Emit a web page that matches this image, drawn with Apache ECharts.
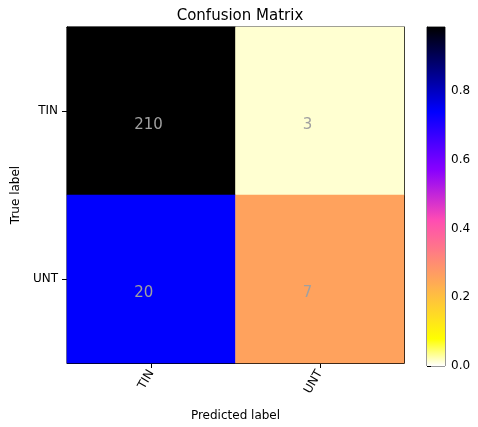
<!DOCTYPE html>
<html><head><meta charset="utf-8">
<script src="https://cdn.jsdelivr.net/npm/echarts@6/dist/echarts.min.js"></script>
<style>html,body{margin:0;padding:0;background:#fff}#c{width:478px;height:427px}</style>
</head><body><div id="c"></div>
<script>
const categories = ['TIN', 'UNT'];
const counts = [[210, 3], [20, 7]];
const colorbarTicks = [0, 0.2, 0.4, 0.6, 0.8];

const rowSums = counts.map(r => r.reduce((a, b) => a + b, 0));
const norm = counts.map((r, i) => r.map(v => v / rowSums[i]));
let vmax = 0; norm.forEach(r => r.forEach(v => { if (v > vmax) vmax = v; }));
let vmin = 0; norm.forEach(r => r.forEach(v => { if (v < vmin) vmin = v; }));

function clip(v) { return Math.max(0, Math.min(1, v)); }
function gnuplot2(x) {
  const r = clip(x / 0.32 - 0.78125);
  const g = clip(2 * x - 0.84);
  const b = clip(x < 0.25 ? 4 * x : (x < 0.92 ? -2 * x + 1.84 : x / 0.08 - 11.5));
  return 'rgb(' + Math.round(r * 255) + ',' + Math.round(g * 255) + ',' + Math.round(b * 255) + ')';
}
function cmap(v) { const t = (v - vmin) / (vmax - vmin); return gnuplot2(1 - t); }

const heatData = [];
counts.forEach((row, i) => row.forEach((c, j) => heatData.push([j, i, norm[i][j], c])));

const stops = [];
for (let k = 0; k <= 100; k++) stops.push({ offset: k / 100, color: gnuplot2(k / 100) });

const font = 'DejaVu Sans';
const frameAxis = { show: true, axisLine: { show: true, lineStyle: { color: '#000' } },
  axisTick: { show: false }, axisLabel: { show: false }, splitLine: { show: false } };
const chart = echarts.init(document.getElementById('c'));
chart.setOption({
  animation: false,
  textStyle: { fontFamily: font },
  title: { text: 'Confusion Matrix', left: 235, top: 4, textAlign: 'center',
    textStyle: { fontFamily: font, fontSize: 15, fontWeight: 'normal', color: '#000' } },
  grid: [
    { left: 67, right: 74, top: 27, bottom: 61, show: true, borderColor: '#000', borderWidth: 1 },
    { left: 427, width: 18, top: 27, bottom: 61, show: true, borderColor: '#333', borderWidth: 1 }
  ],
  xAxis: [
    { type: 'category', data: categories, gridIndex: 0,
      axisLine: { show: true, lineStyle: { color: '#000' } },
      axisTick: { show: true, alignWithLabel: true, length: 5, lineStyle: { color: '#000' } },
      axisLabel: { rotate: 60, color: '#000', fontSize: 12, fontFamily: font, margin: 8 },
      splitLine: { show: false },
      name: 'Predicted label', nameLocation: 'middle', nameGap: 47,
      nameTextStyle: { fontSize: 12, color: '#000', fontFamily: font } },
    { type: 'value', gridIndex: 1, min: 0, max: 1, show: false },
    Object.assign({ type: 'category', data: categories, gridIndex: 0, position: 'top' }, frameAxis)
  ],
  yAxis: [
    { type: 'category', data: categories, inverse: true, gridIndex: 0,
      axisLine: { show: true, lineStyle: { color: '#000' } },
      axisTick: { show: true, alignWithLabel: true, length: 5, lineStyle: { color: '#000' } },
      axisLabel: { color: '#000', fontSize: 12, fontFamily: font, margin: 9 },
      splitLine: { show: false },
      name: 'True label', nameLocation: 'middle', nameGap: 43,
      nameTextStyle: { fontSize: 12, color: '#000', fontFamily: font } },
    { type: 'value', gridIndex: 1, position: 'right', min: vmin, max: vmax, interval: 0.2,
      axisLine: { show: true, lineStyle: { color: '#333' } },
      axisTick: { show: true, length: 4, lineStyle: { color: '#000' } },
      axisLabel: { color: '#000', fontSize: 12, fontFamily: font, margin: 6, showMaxLabel: false,
        formatter: v => v.toFixed(1) },
      splitLine: { show: false } },
    Object.assign({ type: 'category', data: categories, gridIndex: 0, position: 'right' }, frameAxis)
  ],
  series: [
    { type: 'heatmap', xAxisIndex: 0, yAxisIndex: 0, data: heatData, z: 1,
      itemStyle: { color: p => cmap(p.value[2]) },
      label: { show: true, formatter: p => String(p.value[3]), color: '#a0a0a0', fontSize: 15,
        fontFamily: font, align: 'left', offset: [-17, 14] },
      emphasis: { disabled: true } },
    { type: 'custom', xAxisIndex: 1, yAxisIndex: 1, data: [[0, vmax]], silent: true, z: 1,
      renderItem: function (params, api) {
        const p0 = api.coord([0, vmin]);
        const p1 = api.coord([1, vmax]);
        return { type: 'rect',
          shape: { x: p0[0], y: p1[1], width: p1[0] - p0[0], height: p0[1] - p1[1] },
          style: { fill: new echarts.graphic.LinearGradient(0, 0, 0, 1, stops) } };
      } }
  ]
});
</script></body></html>
